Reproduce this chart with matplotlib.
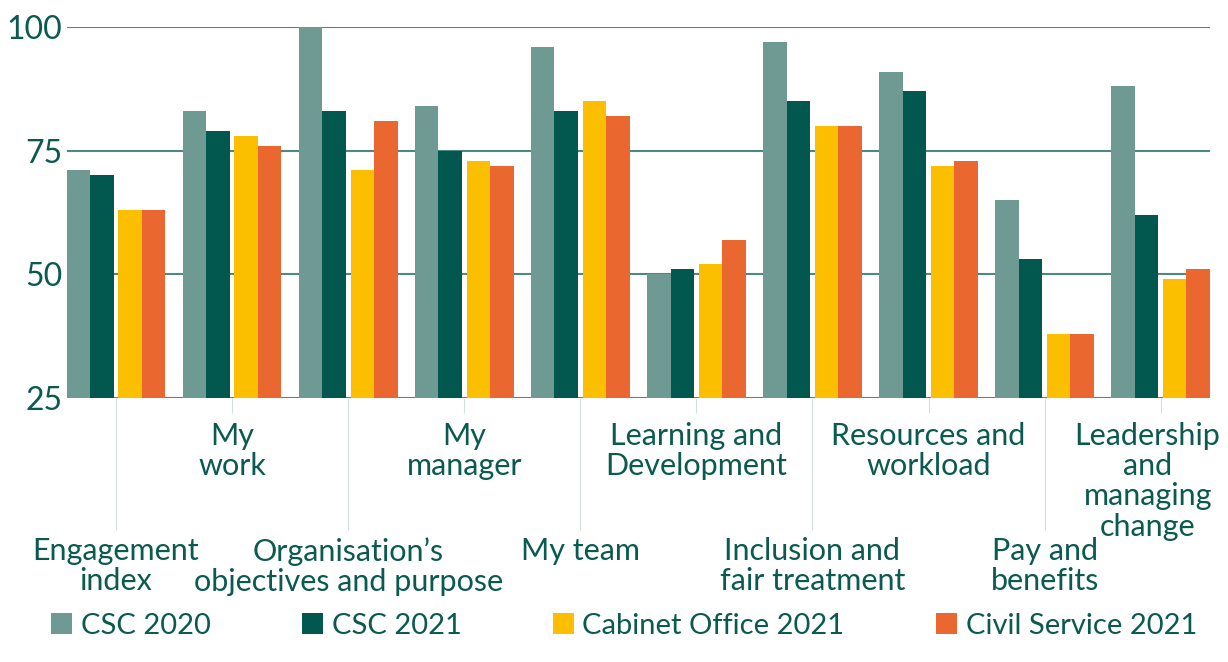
import matplotlib
matplotlib.use("Agg")
import matplotlib.pyplot as plt
import numpy as np
from matplotlib.ticker import FixedLocator
import matplotlib.transforms as mtransforms

categories = ["Engagement\nindex", "My\nwork", "Organisation\u2019s\nobjectives and purpose",
              "My\nmanager", "My team", "Learning and\nDevelopment",
              "Inclusion and\nfair treatment", "Resources and\nworkload",
              "Pay and\nbenefits", "Leadership\nand\nmanaging\nchange"]
series_names = ["CSC 2020", "CSC 2021", "Cabinet Office 2021", "Civil Service 2021"]
csc_2020 = [71, 83, 100, 84, 96, 50, 97, 91, 65, 88]
csc_2021 = [70, 79, 83, 75, 83, 51, 85, 87, 53, 62]
cabinet_office_2021 = [63, 78, 71, 73, 85, 52, 80, 72, 38, 49]
civil_service_2021 = [63, 76, 81, 72, 82, 57, 80, 73, 38, 51]
yticks = [25, 50, 75, 100]

colors = ["#6f9a94", "#02574e", "#fbbf00", "#ea6730"]
text_color = "#0b5a50"
grid_color = "#4f8882"
tick_color = "#d3dedc"

plt.rcParams['font.family'] = ['Lato', 'DejaVu Sans']

fig = plt.figure(figsize=(12.28, 6.62), dpi=100)
ax = fig.add_axes([66.7/1228, 1-398/662, (1210-66.7)/1228, (398-27)/662])

x = np.arange(len(categories))
w = 0.2026
gap = 0.04
offsets = [-gap/2 - 1.5*w, -gap/2 - 0.5*w, gap/2 + 0.5*w, gap/2 + 1.5*w]
data = [csc_2020, csc_2021, cabinet_office_2021, civil_service_2021]
handles = []
for i, (vals, c, name) in enumerate(zip(data, colors, series_names)):
    h = ax.bar(x + offsets[i], np.array(vals) - 25, bottom=25, width=w, color=c,
               label=name, zorder=3, linewidth=0)
    handles.append(h)

ax.set_xlim(-gap/2 - 2*w, len(categories) - 1 + gap/2 + 2*w)
ax.set_ylim(25, 100)
ax.set_yticks(yticks)
ax.yaxis.grid(True, color=grid_color, linewidth=1.5, zorder=1)
ax.set_axisbelow(True)
for s in ax.spines.values():
    s.set_visible(False)
ax.tick_params(axis='y', length=0, labelsize=23, labelcolor=text_color, pad=3)

major = [i for i in x if i % 2 == 0]
minor = [i for i in x if i % 2 == 1]
ax.xaxis.set_major_locator(FixedLocator(major))
ax.xaxis.set_minor_locator(FixedLocator(minor))
ax.set_xticklabels([categories[i] for i in major], minor=False)
ax.set_xticklabels([categories[i] for i in minor], minor=True)
ax.tick_params(axis='x', which='major', length=95, width=0.8, color=tick_color,
               labelsize=22, labelcolor=text_color, pad=5)
ax.tick_params(axis='x', which='minor', length=11, width=0.8, color=tick_color,
               labelsize=22, labelcolor=text_color, pad=6)
for lbl in ax.get_xticklabels(minor=False) + ax.get_xticklabels(minor=True):
    lbl.set_linespacing(1.1)
last = ax.get_xticklabels(minor=True)[-1]
last.set_transform(last.get_transform() + mtransforms.ScaledTranslation(-13/100, 0, fig.dpi_scale_trans))

leg = fig.legend(handles=handles, labels=series_names, loc='lower left',
                 bbox_to_anchor=(31/1228, 3/662), ncol=4, frameon=False,
                 fontsize=21, handlelength=0.7, handleheight=0.7,
                 handletextpad=0.3, columnspacing=3.15, borderaxespad=0.3)
for t in leg.get_texts():
    t.set_color(text_color)

fig.savefig("out.png", dpi=100)
